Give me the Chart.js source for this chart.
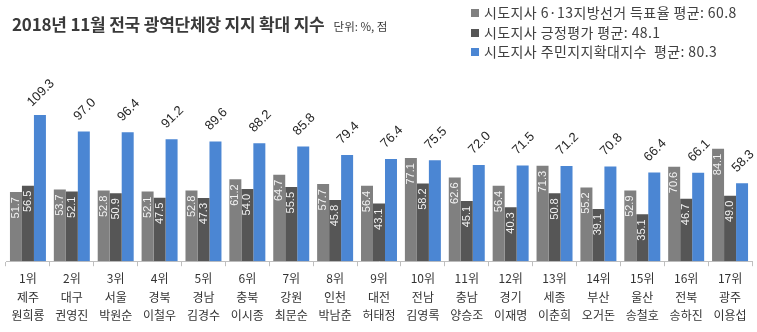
<!DOCTYPE html>
<html>
<head>
<meta charset="utf-8">
<script src="https://cdn.jsdelivr.net/npm/chart.js@4.4.1/dist/chart.umd.min.js"></script>
<style>
  body { margin: 0; background: #fff; }
  #wrap { position: relative; width: 757px; height: 332px; }
  #title { position: absolute; left: 12px; top: 11px; font: 600 17px "Noto Sans CJK KR", sans-serif; letter-spacing: -0.2px; color: #3a3a3a; white-space: nowrap; }
  #title span { font-size: 11.5px; font-weight: 400; letter-spacing: 0; margin-left: 9px; }
  #legend { position: absolute; left: 471px; top: 3px; font: 14px "Noto Sans CJK KR", sans-serif; letter-spacing: 0.4px; color: #404040; }
  #legend div { height: 19.5px; line-height: 19.5px; white-space: pre; }
  #legend i { display: inline-block; width: 8px; height: 8px; margin-right: 5px; vertical-align: 1px; }
</style>
</head>
<body>
<div id="wrap">
  <canvas id="chart" width="757" height="332"></canvas>
  <div id="title">2018년 11월 전국 광역단체장 지지 확대 지수<span>단위: %, 점</span></div>
  <div id="legend"></div>
</div>
<script>
const ranks = ["1위", "2위", "3위", "4위", "5위", "6위", "7위", "8위", "9위", "10위", "11위", "12위", "13위", "14위", "15위", "16위", "17위"];
const regions = ["제주", "대구", "서울", "경북", "경남", "충북", "강원", "인천", "대전", "전남", "충남", "경기", "세종", "부산", "울산", "전북", "광주"];
const governors = ["원희룡", "권영진", "박원순", "이철우", "김경수", "이시종", "최문순", "박남춘", "허태정", "김영록", "양승조", "이재명", "이춘희", "오거돈", "송철호", "송하진", "이용섭"];

// 6·13 지방선거 득표율
const voteShare = [51.7, 53.7, 52.8, 52.1, 52.8, 61.2, 64.7, 57.7, 56.4, 77.1, 62.6, 56.4, 71.3, 55.2, 52.9, 70.6, 84.1];
// 긍정평가
const approval = [56.5, 52.1, 50.9, 47.5, 47.3, 54.0, 55.5, 45.8, 43.1, 58.2, 45.1, 40.3, 50.8, 39.1, 35.1, 46.7, 49.0];
// 주민지지확대지수
const supportIndex = [109.3, 97.0, 96.4, 91.2, 89.6, 88.2, 85.8, 79.4, 76.4, 75.5, 72.0, 71.5, 71.2, 70.8, 66.4, 66.1, 58.3];

const seriesNames = [
  "시도지사 6·13지방선거 득표율 평균: 60.8",
  "시도지사 긍정평가 평균: 48.1",
  "시도지사 주민지지확대지수  평균: 80.3"
];
const seriesColors = ["#808080", "#565656", "#4b86d3"];

// legend on the top right
document.getElementById("legend").innerHTML = seriesNames
  .map((name, i) => `<div><i style="background:${seriesColors[i]}"></i>${name}</div>`)
  .join("");

// value labels: rotated inside the grey bars, diagonal above the blue ones
const valueLabels = {
  id: "valueLabels",
  afterDatasetsDraw(chart) {
    const ctx = chart.ctx;
    chart.data.datasets.forEach((ds, i) => {
      chart.getDatasetMeta(i).data.forEach((bar, j) => {
        const txt = ds.data[j].toFixed(1);
        ctx.save();
        if (i < 2) {
          ctx.translate(bar.x, bar.y + 5);
          ctx.rotate(-Math.PI / 2);
          ctx.textAlign = "right";
          ctx.textBaseline = "middle";
          ctx.fillStyle = "#f2f2f2";
          ctx.font = '11px "Liberation Sans", sans-serif';
        } else {
          ctx.translate(bar.x + 1, bar.y - 22);
          ctx.rotate(-Math.PI / 4);
          ctx.textAlign = "center";
          ctx.textBaseline = "middle";
          ctx.fillStyle = "#262626";
          ctx.font = '13px "Liberation Sans", sans-serif';
        }
        ctx.fillText(txt, 0, 0);
        ctx.restore();
      });
    });
  }
};

new Chart(document.getElementById("chart"), {
  type: "bar",
  plugins: [valueLabels],
  data: {
    labels: ranks.map((r, i) => [r, regions[i], governors[i]]),
    datasets: [
      { label: seriesNames[0], data: voteShare, backgroundColor: seriesColors[0] },
      { label: seriesNames[1], data: approval, backgroundColor: seriesColors[1] },
      { label: seriesNames[2], data: supportIndex, backgroundColor: seriesColors[2] }
    ]
  },
  options: {
    responsive: false,
    animation: false,
    layout: { padding: { top: 74, left: 6, right: 5, bottom: 4 } },
    datasets: { bar: { categoryPercentage: 0.82, barPercentage: 1.0 } },
    plugins: { legend: { display: false }, tooltip: { enabled: false } },
    scales: {
      y: { display: false, min: 0, max: 140 },
      x: {
        grid: { drawOnChartArea: false, drawTicks: true, tickLength: 5, color: "#bfbfbf" },
        border: { color: "#bfbfbf" },
        ticks: {
          color: "#333",
          padding: 3,
          maxRotation: 0,
          autoSkip: false,
          font: { family: '"Noto Sans CJK KR", sans-serif', size: 12, lineHeight: 1.55 }
        }
      }
    }
  }
});
</script>
</body>
</html>
